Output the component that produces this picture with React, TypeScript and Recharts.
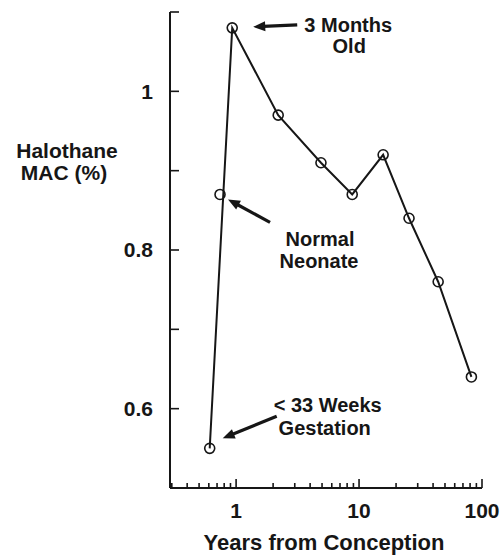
import { ComposedChart, Line, XAxis, YAxis, ReferenceDot } from "recharts";

// years from conception / halothane MAC (%)
const ages = [0.61, 0.93, 2.2, 4.9, 8.8, 15.7, 25.5, 44, 82];
const mac = [0.55, 1.08, 0.97, 0.91, 0.87, 0.92, 0.84, 0.76, 0.64];
const neonateAge = [0.74];
const neonateMac = [0.87];

const xMajor = [1, 10, 100];
const xMinor = [0.3, 0.4, 0.5, 0.6, 0.7, 0.8, 0.9, 2, 3, 4, 5, 6, 7, 8, 9, 20, 30, 40, 50, 60, 70, 80, 90];
const yTicks = [0.6, 0.7, 0.8, 0.9, 1, 1.1];
const yLabels: Record<string, string> = { "0.6": "0.6", "0.8": "0.8", "1": "1" };

const curve = ages.map((a, i) => ({ age: a, mac: mac[i] }));
const neonate = neonateAge.map((a, i) => ({ age: a, mac: neonateMac[i] }));

const FONT = '"Liberation Sans", Arial, Helvetica, sans-serif';
const INK = "#161616";

const XTick = ({ x, y, payload }: any) => {
  const v = payload.value;
  const major = xMajor.includes(v);
  return (
    <g>
      <line x1={x} x2={x} y1={y} y2={y - (major ? 9 : 5)} stroke={INK} strokeWidth={1.6} />
      {major && (
        <text x={x} y={y + 30} textAnchor="middle" fontFamily={FONT} fontWeight="bold" fontSize={21} fill={INK}>
          {v}
        </text>
      )}
    </g>
  );
};

const YTick = ({ x, y, payload }: any) => {
  const label = yLabels[String(payload.value)];
  return (
    <g>
      <line x1={x} x2={x + 9} y1={y} y2={y} stroke={INK} strokeWidth={1.6} />
      {label && (
        <text x={x - 17} y={y} dy="0.35em" textAnchor="end" fontFamily={FONT} fontWeight="bold" fontSize={21} fill={INK}>
          {label}
        </text>
      )}
    </g>
  );
};

type Note = { tip: [number, number]; tail: [number, number]; lines: [string, number, number][] };

// arrow + text, offsets in px from the point it points at
const notes: Note[] = [
  { tip: [21, -1], tail: [65, -3], lines: [["3 Months", 116, 4], ["Old", 117, 25]] },
  { tip: [8, 5], tail: [50, 28], lines: [["Normal", 100, 52], ["Neonate", 99, 74]] },
  { tip: [13, -10], tail: [67, -32], lines: [["< 33 Weeks", 118, -36], ["Gestation", 115, -13]] },
];

const Annotation = ({ cx, cy, note }: any) => {
  const n: Note = note;
  const tx = cx + n.tip[0], ty = cy + n.tip[1];
  const sx = cx + n.tail[0], sy = cy + n.tail[1];
  const len = Math.hypot(tx - sx, ty - sy);
  const ux = (tx - sx) / len, uy = (ty - sy) / len;
  const hl = 12, hw = 5;
  const bx = tx - ux * hl, by = ty - uy * hl;
  const head = `${tx},${ty} ${bx - uy * hw},${by + ux * hw} ${bx + uy * hw},${by - ux * hw}`;
  return (
    <g>
      <line x1={sx} y1={sy} x2={bx + ux * 2} y2={by + uy * 2} stroke={INK} strokeWidth={3.2} />
      <polygon points={head} fill={INK} />
      {n.lines.map(([t, dx, dy]) => (
        <text key={t} x={cx + dx} y={cy + dy} textAnchor="middle" fontFamily={FONT} fontWeight="bold" fontSize={20} fill={INK}>
          {t}
        </text>
      ))}
    </g>
  );
};

const notePoints = [
  { age: ages[1], mac: mac[1] },
  { age: neonateAge[0], mac: neonateMac[0] },
  { age: ages[0], mac: mac[0] },
];

export default function App() {
  return (
    <div style={{ position: "absolute", left: 0, top: 0, width: 502, height: 560, background: "#fff" }}>
      <ComposedChart width={502} height={560} margin={{ top: 12, right: 20, left: 110, bottom: 42 }}>
        <XAxis
          dataKey="age"
          type="number"
          scale="log"
          domain={[0.29, 100]}
          allowDataOverflow
          ticks={[...xMinor, ...xMajor]}
          interval={0}
          height={30}
          tickSize={0}
          tickMargin={0}
          tickLine={false}
          tick={<XTick />}
          axisLine={{ stroke: INK, strokeWidth: 2 }}
        />
        <YAxis
          type="number"
          domain={[0.5, 1.1]}
          allowDataOverflow
          ticks={yTicks}
          interval={0}
          width={60}
          tickSize={0}
          tickMargin={0}
          tickLine={false}
          tick={<YTick />}
          axisLine={{ stroke: INK, strokeWidth: 2 }}
        />
        <Line
          data={curve}
          dataKey="mac"
          stroke={INK}
          strokeWidth={2}
          dot={{ r: 5, fill: "none", stroke: INK, strokeWidth: 1.6 }}
          isAnimationActive={false}
        />
        <Line
          data={neonate}
          dataKey="mac"
          stroke="none"
          dot={{ r: 5, fill: "none", stroke: INK, strokeWidth: 1.6 }}
          isAnimationActive={false}
        />
        {notePoints.map((p, i) => (
          <ReferenceDot
            key={i}
            x={p.age}
            y={p.mac}
            r={0}
            shape={(props: any) => <Annotation cx={props.cx} cy={props.cy} note={notes[i]} />}
          />
        ))}
      </ComposedChart>
      <svg width={502} height={560} style={{ position: "absolute", left: 0, top: 0, pointerEvents: "none" }}>
        <g fontFamily={FONT} fontWeight="bold" fontSize={21} fill={INK} textAnchor="middle">
          <text x={67} y={158}>Halothane</text>
          <text x={64} y={180}>MAC (%)</text>
          <text x={324} y={550} fontSize={22}>Years from Conception</text>
        </g>
      </svg>
    </div>
  );
}
